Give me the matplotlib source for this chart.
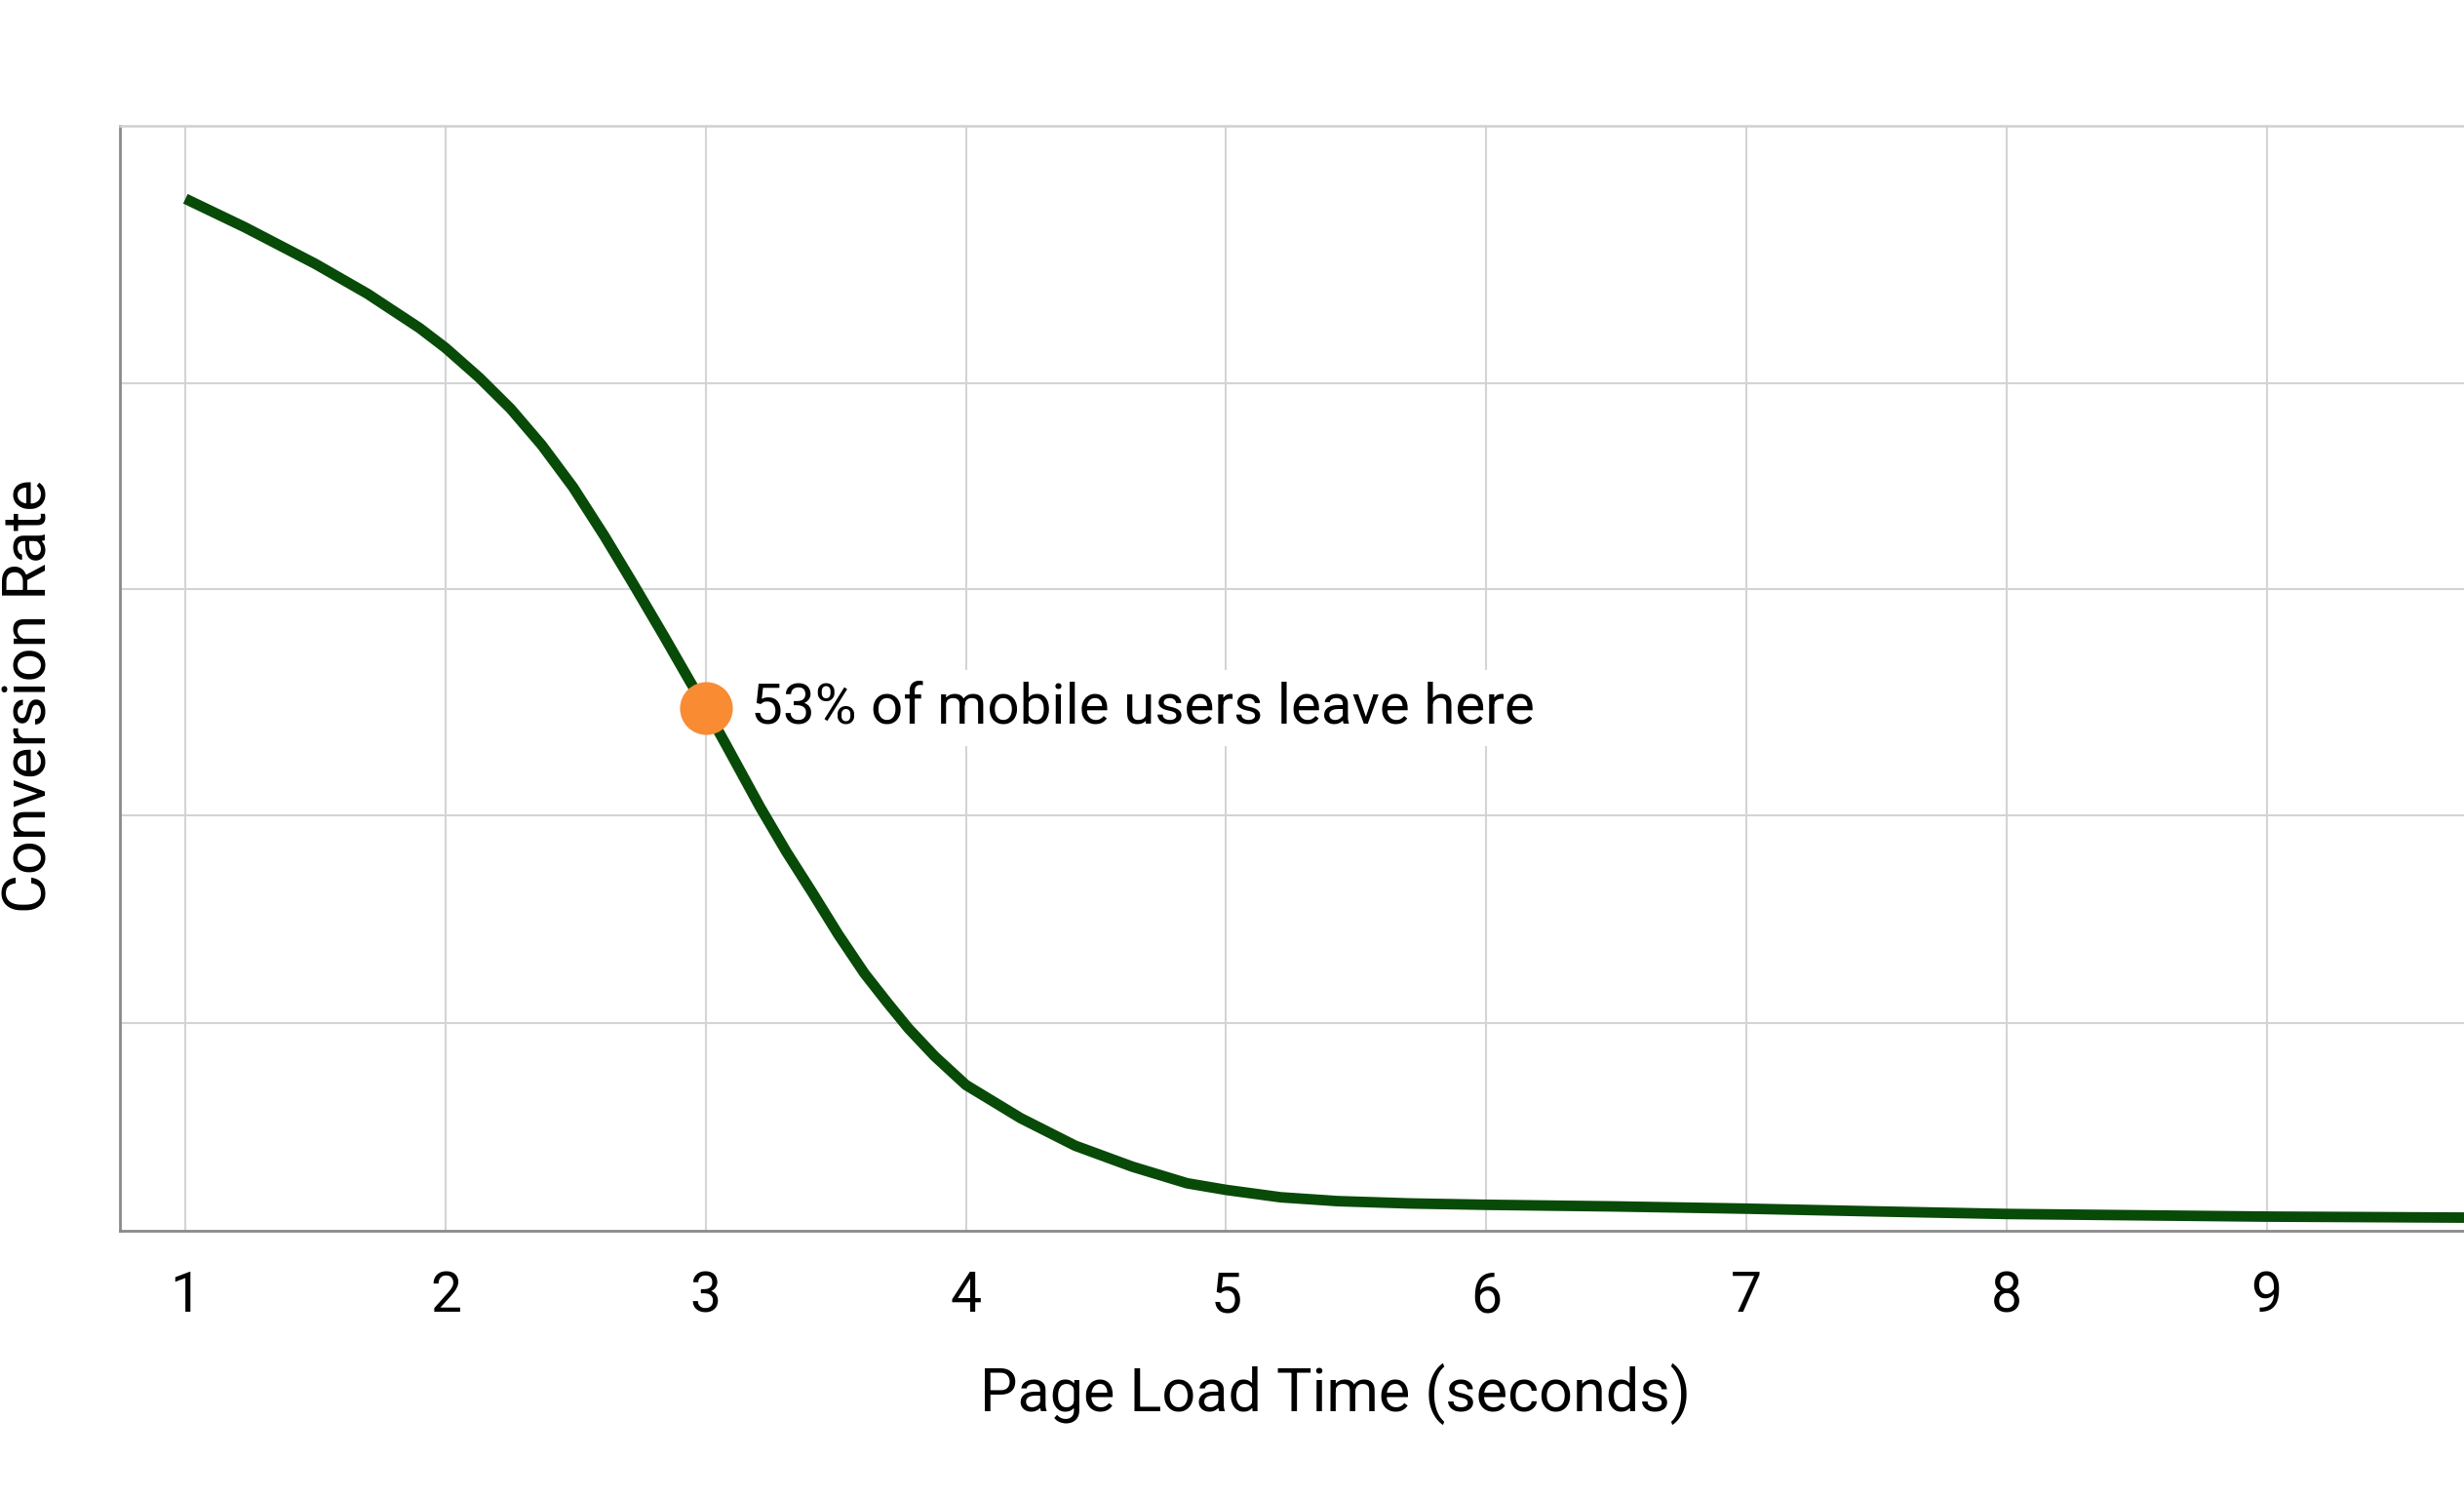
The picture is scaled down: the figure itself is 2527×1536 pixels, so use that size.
import numpy as np
import matplotlib
matplotlib.use('Agg')
import matplotlib.pyplot as plt

plt.rcParams['font.family'] = ['Roboto', 'DejaVu Sans']

# Dados (eixo y em % da altura do grafico)
load_time = [1.0, 1.23, 1.5, 1.7, 1.9, 2.0, 2.13, 2.25, 2.37, 2.49, 2.61, 2.72,
             2.84, 2.94, 3.0, 3.08, 3.21, 3.31, 3.41, 3.51, 3.61, 3.70, 3.78,
             3.88, 4.0, 4.21, 4.42, 4.64, 4.85, 5.0, 5.21, 5.43, 5.71, 6.0,
             6.5, 7.0, 7.5, 8.0, 8.5, 9.0, 9.76]
conversion = [93.4, 90.8, 87.5, 84.8, 81.7, 79.9, 77.2, 74.4, 71.1, 67.3, 62.9, 58.6,
              53.8, 49.7, 47.3, 43.9, 38.3, 34.3, 30.6, 26.8, 23.3, 20.6, 18.3,
              15.8, 13.2, 10.2, 7.7, 5.8, 4.3, 3.7, 3.03, 2.68, 2.47, 2.35,
              2.2, 2.0, 1.75, 1.52, 1.4, 1.28, 1.19]
x_ticks = [1, 2, 3, 4, 5, 6, 7, 8, 9]
y_grid = [18.8, 37.6, 58.1, 76.7]
mark_x = 3.0
mark_y = 47.3
mark_text = '53% of mobile users leave here'

fig = plt.figure(figsize=(25.27, 15.36), dpi=100)
ax = fig.add_axes([0.0487, 0.1784, 0.9513, 0.7376])

ax.plot(load_time, conversion, color='#084a08', lw=7.8, solid_capstyle='butt',
        solid_joinstyle='round', zorder=3)
ax.plot([mark_x], [mark_y], 'o', ms=39, color='#f98b33', mec='none', zorder=4)
ax.annotate(mark_text, xy=(mark_x, mark_y), xytext=(33, 0), textcoords='offset points',
            fontsize=42, va='center', ha='left', color='black', zorder=5,
            bbox=dict(boxstyle='square,pad=0.2', fc='white', ec='none'))

ax.set_xlim(0.7485, 9.759)
ax.set_ylim(0, 100)
ax.set_xticks(x_ticks)
ax.set_xticklabels([str(t) for t in x_ticks])
ax.set_yticks(y_grid)
ax.set_yticklabels([])
ax.tick_params(axis='x', length=0, pad=29, labelsize=41)
ax.tick_params(axis='y', length=0)
ax.grid(True, color='#d4d4d4', lw=1.5, zorder=0)
ax.set_axisbelow(True)

for s in ['left', 'bottom']:
    ax.spines[s].set_color('#8a8a8a')
    ax.spines[s].set_linewidth(2)
ax.spines['top'].set_color('#d0d0d0')
ax.spines['top'].set_linewidth(1.8)
ax.spines['right'].set_visible(False)

ax.set_xlabel('Page Load Time (seconds)', fontsize=44, va='center')
ax.xaxis.set_label_coords(0.5187, -0.1474)
ax.set_ylabel('Conversion Rate', fontsize=44, va='center', ha='center')
ax.yaxis.set_label_coords(-0.0384, 0.4837)

fig.savefig('out.png', dpi=100, facecolor='white')
